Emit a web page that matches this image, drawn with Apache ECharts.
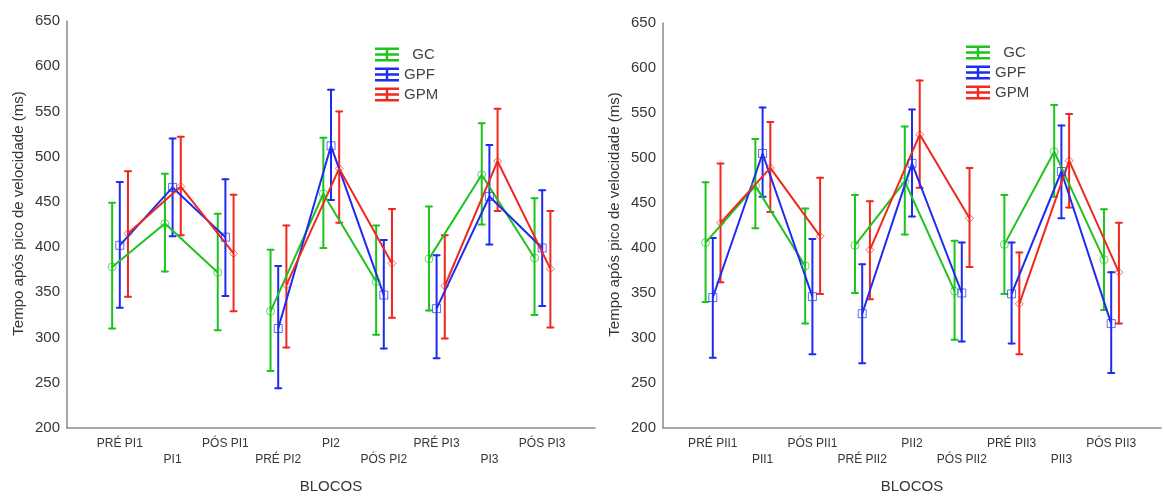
<!DOCTYPE html>
<html>
<head>
<meta charset="utf-8">
<script src="https://cdn.jsdelivr.net/npm/echarts@6/dist/echarts.min.js"></script>
<style>
  html, body { margin: 0; padding: 0; background: #fff; }
  #chart { width: 1164px; height: 499px; }
</style>
</head>
<body>
<div id="chart"></div>
<script>
// Block labels for each panel
const blocksI  = ['PRÉ PI1', 'PI1', 'PÓS PI1', 'PRÉ PI2', 'PI2', 'PÓS PI2', 'PRÉ PI3', 'PI3', 'PÓS PI3'];
const blocksII = ['PRÉ PII1', 'PII1', 'PÓS PII1', 'PRÉ PII2', 'PII2', 'PÓS PII2', 'PRÉ PII3', 'PII3', 'PÓS PII3'];

const groups = ['GC', 'GPF', 'GPM'];
const yTicks = [200, 250, 300, 350, 400, 450, 500, 550, 600, 650];

// Panel I: means and error-bar limits (ms)
const gcMeanI  = [378, 426, 372, 329, 459, 362, 387, 480, 388];
const gcLowI   = [310, 373, 308, 263, 399, 303, 330, 425, 325];
const gcHighI  = [449, 481, 437, 397, 521, 424, 445, 537, 454];
const gpfMeanI = [402, 466, 411, 310, 512, 347, 332, 456, 399];
const gpfLowI  = [333, 412, 346, 244, 452, 288, 277, 403, 335];
const gpfHighI = [472, 520, 475, 379, 574, 408, 391, 513, 463];
const gpmMeanI = [415, 467, 393, 358, 487, 382, 357, 495, 376];
const gpmLowI  = [345, 413, 329, 289, 427, 322, 299, 440, 311];
const gpmHighI = [484, 522, 458, 424, 550, 442, 413, 553, 440];

// Panel II: means and error-bar limits (ms)
const gcMeanII  = [406, 469, 380, 403, 474, 352, 404, 507, 387];
const gcLowII   = [340, 422, 316, 350, 415, 298, 349, 457, 331];
const gcHighII  = [473, 521, 444, 459, 535, 408, 459, 559, 443];
const gpfMeanII = [345, 505, 346, 327, 494, 350, 349, 485, 316];
const gpfLowII  = [278, 457, 282, 272, 435, 296, 294, 433, 261];
const gpfHighII = [411, 556, 410, 382, 554, 406, 406, 536, 373];
const gpmMeanII = [428, 489, 413, 398, 526, 433, 338, 497, 373];
const gpmLowII  = [362, 440, 349, 343, 467, 379, 282, 445, 316];
const gpmHighII = [494, 540, 478, 452, 586, 489, 395, 549, 428];

const colors  = { GC: '#1ec31e', GPF: '#1e2cf0', GPM: '#f0281e' };
const symbols = { GC: 'circle', GPF: 'rect', GPM: 'diamond' };
const shift   = { GC: -0.145, GPF: 0, GPM: 0.155 };

const panelData = [
  { cats: blocksI,
    GC:  [gcMeanI,  gcLowI,  gcHighI],
    GPF: [gpfMeanI, gpfLowI, gpfHighI],
    GPM: [gpmMeanI, gpmLowI, gpmHighI] },
  { cats: blocksII,
    GC:  [gcMeanII,  gcLowII,  gcHighII],
    GPF: [gpfMeanII, gpfLowII, gpfHighII],
    GPM: [gpmMeanII, gpmLowII, gpmHighII] }
];

const textColor = '#363636';
const axisColor = '#8a8a8a';
const font = 'Liberation Sans, Arial, sans-serif';

// Error-bar glyph used as legend icon
const legendIcon = 'path://M0,0H24V2.4H0Z M0,5.8H24V8.2H0Z M0,11.6H24V14H0Z M10.8,0H13.2V14H10.8Z';

function makeXAxis(gridIndex, cats) {
  return {
    type: 'value', gridIndex, min: 0, max: 10, interval: 1,
    name: 'BLOCOS', nameLocation: 'middle', nameGap: 51,
    nameTextStyle: { fontFamily: font, fontSize: 15, color: textColor },
    axisLine: { show: true, lineStyle: { color: axisColor, width: 1.5 } },
    axisTick: { show: false },
    splitLine: { show: false },
    axisLabel: {
      margin: 8, fontFamily: font, fontSize: 12, color: textColor, lineHeight: 16,
      formatter: v => {
        const i = Math.round(v) - 1;
        if (i < 0 || i >= cats.length) return '';
        return i % 2 === 0 ? cats[i] : '\n' + cats[i];
      }
    }
  };
}

function makeYAxis(gridIndex) {
  return {
    type: 'value', gridIndex,
    min: yTicks[0], max: yTicks[yTicks.length - 1], interval: yTicks[1] - yTicks[0],
    name: 'Tempo após pico de velocidade (ms)', nameLocation: 'middle', nameGap: 41,
    nameTextStyle: { fontFamily: font, fontSize: 15, color: textColor, padding: [0, 0, 0, 22] },
    axisLine: { show: true, lineStyle: { color: axisColor, width: 1.5 } },
    axisTick: { show: false },
    splitLine: { show: false },
    axisLabel: { margin: 7, fontFamily: font, fontSize: 15, color: textColor }
  };
}

function errorBarRenderer(color) {
  return function (params, api) {
    const x = api.value(0);
    const lo = api.coord([x, api.value(1)]);
    const hi = api.coord([x, api.value(2)]);
    const cap = 3;
    const style = { stroke: color, lineWidth: 2, lineCap: 'round' };
    return {
      type: 'group',
      children: [
        { type: 'line', shape: { x1: lo[0], y1: lo[1], x2: hi[0], y2: hi[1] }, style },
        { type: 'line', shape: { x1: lo[0] - cap, y1: lo[1], x2: lo[0] + cap, y2: lo[1] }, style },
        { type: 'line', shape: { x1: hi[0] - cap, y1: hi[1], x2: hi[0] + cap, y2: hi[1] }, style }
      ]
    };
  };
}

const series = [];
panelData.forEach((panel, p) => {
  groups.forEach(g => {
    const [mean, low, high] = panel[g];
    const lineData = [];
    const barData = [];
    mean.forEach((m, i) => {
      const x = i + 1 + shift[g];
      lineData.push([x, m]);
      barData.push([x, low[i], high[i]]);
      // each block (PRÉ / P / PÓS) is its own connected profile
      if (i % 3 === 2 && i < mean.length - 1) lineData.push([x + 0.5, '-']);
    });
    series.push({
      name: g, type: 'custom', xAxisIndex: p, yAxisIndex: p,
      renderItem: errorBarRenderer(colors[g]),
      encode: { x: 0, y: [1, 2] },
      data: barData, silent: true, z: 2
    });
    series.push({
      name: g, type: 'line', xAxisIndex: p, yAxisIndex: p,
      data: lineData, connectNulls: false,
      symbol: symbols[g], symbolSize: 8, showAllSymbol: true,
      lineStyle: { color: colors[g], width: 2 },
      itemStyle: { color: 'rgba(255,255,255,0)', borderColor: colors[g], borderWidth: 1, opacity: 0.7 },
      emphasis: { disabled: true },
      animation: false, z: 3
    });
  });
});

function makeLegend(left, top) {
  return {
    orient: 'vertical', left, top, padding: 0, itemGap: 5, itemWidth: 24, itemHeight: 14,
    icon: legendIcon,
    textStyle: { fontFamily: font, fontSize: 15, color: '#444' },
    formatter: name => (name === 'GC' ? '  ' + name : name),
    data: groups.map(g => ({ name: g, itemStyle: { color: colors[g] } }))
  };
}

const chart = echarts.init(document.getElementById('chart'), null, { renderer: 'canvas' });
chart.setOption({
  animation: false,
  backgroundColor: '#ffffff',
  grid: [
    { left: 67, top: 21, width: 528, height: 408 },
    { left: 663, top: 23, width: 511, height: 410 }
  ],
  xAxis: [makeXAxis(0, blocksI), makeXAxis(1, blocksII)],
  yAxis: [makeYAxis(0), makeYAxis(1)],
  legend: [makeLegend(375, 47), makeLegend(966, 45)],
  series
});
</script>
</body>
</html>
